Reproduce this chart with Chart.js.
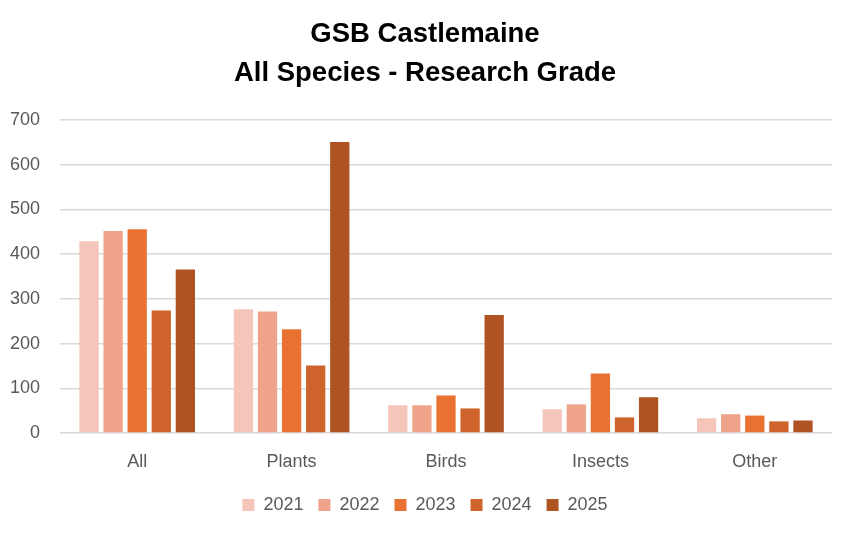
<!DOCTYPE html>
<html>
<head>
<meta charset="utf-8">
<script src="https://cdn.jsdelivr.net/npm/chart.js@4"></script>
<style>
  html, body { margin: 0; padding: 0; background: #fff; }
  #wrap { width: 850px; height: 533px; }
</style>
</head>
<body>
<div id="wrap"><canvas id="chart"></canvas></div>
<script>
const categories = ['All', 'Plants', 'Birds', 'Insects', 'Other'];
const years = ['2021', '2022', '2023', '2024', '2025'];
const v2021 = [429, 277, 62, 53, 33];
const v2022 = [452, 272, 62, 64, 42];
const v2023 = [456, 232, 84, 133, 39];
const v2024 = [274, 151, 55, 35, 26];
const v2025 = [366, 651, 264, 80, 28];
const colors = ['#F4C5B8', '#EFA38A', '#E97132', '#CF632C', '#B05323'];

const series = [v2021, v2022, v2023, v2024, v2025];

new Chart(document.getElementById('chart').getContext('2d'), {
  type: 'bar',
  data: {
    labels: categories,
    datasets: series.map((d, i) => ({
      label: years[i],
      data: d,
      backgroundColor: colors[i],
      borderWidth: 0,
      categoryPercentage: 0.78,
      barPercentage: 0.8
    }))
  },
  options: {
    responsive: true,
    maintainAspectRatio: false,
    animation: false,
    layout: { padding: { left: 0, right: 0, top: 8, bottom: 9 } },
    scales: {
      x: {
        afterFit: s => { s.height = 48; },
        grid: { display: false, drawTicks: false },
        border: { display: false },
        ticks: { color: '#595959', font: { family: 'Liberation Sans', size: 18 }, padding: 18 }
      },
      y: {
        min: 0,
        max: 700,
        afterFit: s => { s.width = 60; },
        ticks: { stepSize: 100, color: '#595959', font: { family: 'Liberation Sans', size: 18 }, padding: 20 },
        grid: { color: '#D9D9D9', lineWidth: 1.5, drawTicks: false },
        border: { display: false }
      },
      // empty right-hand spacer so title and legend stay centred on the page
      spacer: {
        type: 'linear',
        position: 'right',
        afterFit: s => { s.width = 18; },
        grid: { display: false },
        ticks: { display: false },
        border: { display: false }
      }
    },
    plugins: {
      title: {
        display: true,
        text: ['GSB Castlemaine', 'All Species - Research Grade'],
        color: '#000',
        font: { family: 'Liberation Sans', size: 27.5, weight: 'bold', lineHeight: 1.42 },
        padding: { top: 6.5, bottom: 27.5 }
      },
      legend: {
        display: true,
        position: 'bottom',
        labels: {
          boxWidth: 12,
          boxHeight: 12,
          color: '#595959',
          font: { family: 'Liberation Sans', size: 18 },
          padding: 15
        }
      },
      tooltip: { enabled: false }
    }
  }
});
</script>
</body>
</html>
